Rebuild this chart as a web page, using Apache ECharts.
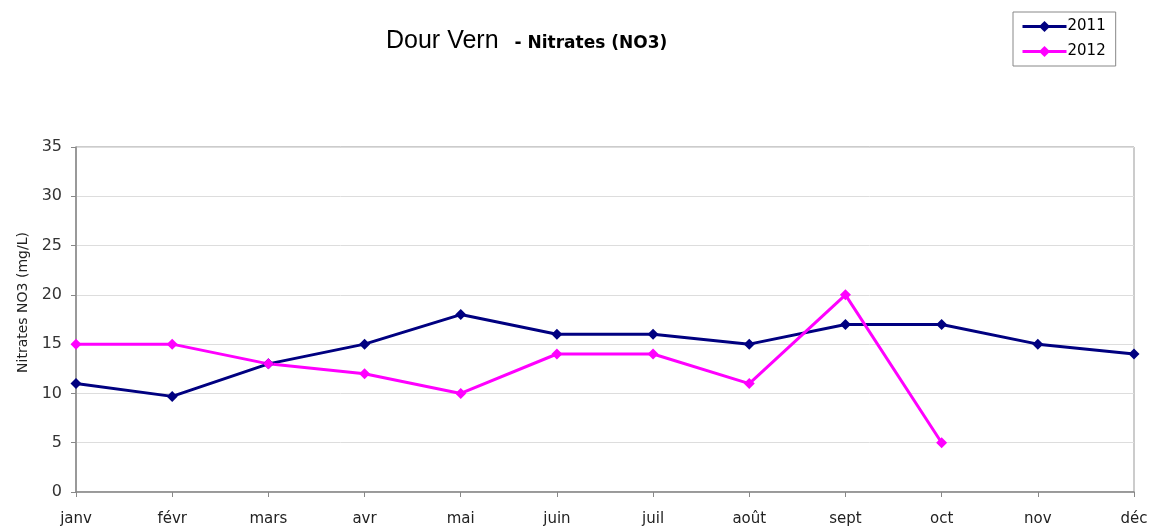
<!DOCTYPE html>
<html>
<head>
<meta charset="utf-8">
<script src="https://cdn.jsdelivr.net/npm/echarts@6/dist/echarts.min.js"></script>
<style>
  html, body { margin: 0; padding: 0; background: #fff; }
  #chart { width: 1154px; height: 530px; }
</style>
</head>
<body>
<div id="chart"></div>
<script>
var mois = ['janv', 'févr', 'mars', 'avr', 'mai', 'juin', 'juil', 'août', 'sept', 'oct', 'nov', 'déc'];
var nitrates2011 = [11, 9.7, 13, 15, 18, 16, 16, 15, 17, 17, 15, 14];
var nitrates2012 = [15, 15, 13, 12, 10, 14, 14, 11, 20, 5, null, null];
var yTicks = [0, 5, 10, 15, 20, 25, 30, 35];

var myChart = echarts.init(document.getElementById('chart'));

var axisFont = 'DejaVu Sans';

var option = {
    animation: false,
    title: {
        text: '{a|Dour Vern}{b|- Nitrates (NO3)}',
        left: 381,
        top: 24,
        textStyle: {
            rich: {
                a: { fontFamily: 'Liberation Sans', fontSize: 25, fontWeight: 'normal', color: '#000', padding: [0, 16, 0, 0] },
                b: { fontFamily: 'DejaVu Sans', fontSize: 17, fontWeight: 'bold', color: '#000', padding: [5, 0, 0, 0] }
            }
        }
    },
    legend: {
        orient: 'vertical',
        left: 1013,
        top: 12,
        padding: [7, 10, 7, 8],
        itemGap: 10,
        itemWidth: 44,
        itemHeight: 14,
        borderColor: '#888',
        borderWidth: 1,
        lineStyle: { width: 3 },
        textStyle: { fontFamily: axisFont, fontSize: 15, color: '#000', padding: [0, 0, 0, -4] },
        data: ['2011', '2012']
    },
    grid: {
        left: 76,
        right: 20,
        top: 147,
        bottom: 38,
        show: true,
        borderColor: '#999',
        borderWidth: 1
    },
    xAxis: {
        type: 'category',
        data: mois,
        boundaryGap: false,
        axisLine: { lineStyle: { color: '#888', width: 1.5 } },
        axisTick: { show: true, length: 5, lineStyle: { color: '#888' } },
        axisLabel: { fontFamily: axisFont, fontSize: 15, color: '#222', margin: 20 }
    },
    yAxis: {
        type: 'value',
        min: yTicks[0],
        max: yTicks[yTicks.length - 1],
        interval: 5,
        name: 'Nitrates NO3 (mg/L)',
        nameLocation: 'middle',
        nameGap: 46,
        nameTextStyle: { fontFamily: axisFont, fontSize: 14, color: '#222', padding: [0, 0, 0, 34] },
        axisLine: { show: true, lineStyle: { color: '#888', width: 1.5 } },
        axisTick: { show: true, length: 5, lineStyle: { color: '#888' } },
        axisLabel: { fontFamily: axisFont, fontSize: 16, color: '#333', margin: 14 },
        splitLine: { lineStyle: { color: '#ddd' } }
    },
    series: [
        {
            name: '2011',
            type: 'line',
            data: nitrates2011,
            symbol: 'diamond',
            symbolSize: 11,
            lineStyle: { color: '#000080', width: 3 },
            itemStyle: { color: '#000080' }
        },
        {
            name: '2012',
            type: 'line',
            data: nitrates2012,
            symbol: 'diamond',
            symbolSize: 11,
            lineStyle: { color: '#ff00ff', width: 3 },
            itemStyle: { color: '#ff00ff' }
        }
    ]
};

myChart.setOption(option);
</script>
</body>
</html>
